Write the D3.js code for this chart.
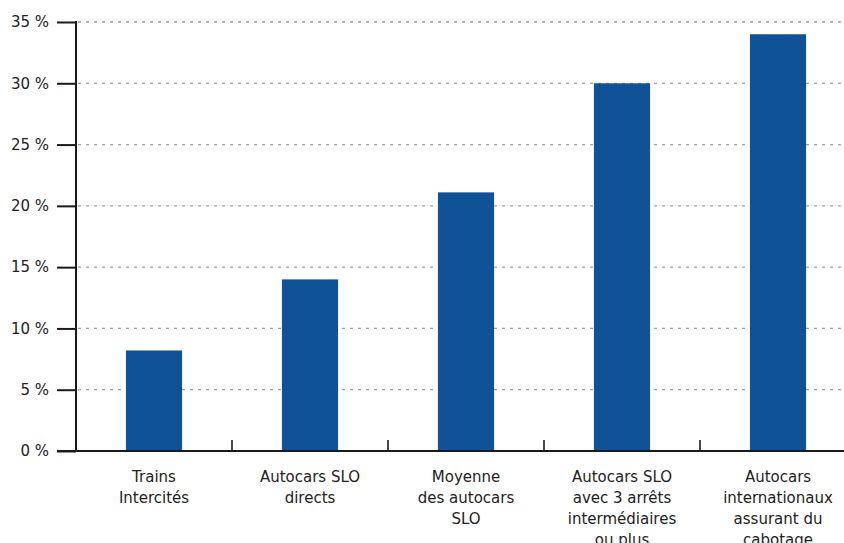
<!DOCTYPE html>
<html>
<head>
<meta charset="utf-8">
<script src="https://cdn.jsdelivr.net/npm/d3@7"></script>
<style>
  body { margin: 0; background: #fff; }
  svg { display: block; font-family: "DejaVu Sans", sans-serif; }
</style>
</head>
<body>
<svg id="chart"></svg>
<script>
// data
var categories = [
    ["Trains", "Intercités"],
    ["Autocars SLO", "directs"],
    ["Moyenne", "des autocars", "SLO"],
    ["Autocars SLO", "avec 3 arrêts", "intermédiaires", "ou plus"],
    ["Autocars", "internationaux", "assurant du", "cabotage"]
];
var values = [8.2, 14, 21.1, 30, 34];
var yTicks = [0, 5, 10, 15, 20, 25, 30, 35];

var width = 844, height = 543;
var svg = d3.select("#chart").attr("width", width).attr("height", height);

var x0 = 76, y0 = 451, yTop = 22, band = 156;

var x = d3.scaleBand()
    .domain(d3.range(values.length))
    .range([x0, x0 + band * values.length])
    .paddingInner(0.64).paddingOuter(0.32);

var y = d3.scaleLinear().domain([0, 35]).range([y0, yTop]);

// grid lines
svg.append("g")
    .selectAll("line")
    .data(yTicks.slice(1))
    .enter().append("line")
    .attr("x1", x0 + 2)
    .attr("x2", width)
    .attr("y1", function (d) { return y(d); })
    .attr("y2", function (d) { return y(d); })
    .attr("stroke", "#a0a0a0")
    .attr("stroke-width", 1.3)
    .attr("stroke-dasharray", "3,5");

// bars
svg.append("g")
    .selectAll("rect")
    .data(values)
    .enter().append("rect")
    .attr("x", function (d, i) { return x(i); })
    .attr("y", function (d) { return y(d); })
    .attr("width", x.bandwidth())
    .attr("height", function (d) { return y0 - y(d); })
    .attr("fill", "#0f5298");

// y axis
var yAxis = d3.axisLeft(y)
    .tickValues(yTicks)
    .tickSize(19)
    .tickPadding(8)
    .tickFormat(function (d) { return d + " %"; });

var gy = svg.append("g")
    .attr("transform", "translate(" + x0 + ",0)")
    .call(yAxis);
gy.select(".domain").remove();
gy.selectAll(".tick line").attr("stroke", "#1a1a1a").attr("stroke-width", 2);
gy.selectAll(".tick text")
    .attr("font-size", 15)
    .attr("fill", "#222")
    .attr("font-family", "DejaVu Sans, sans-serif");

svg.append("line")
    .attr("x1", x0).attr("x2", x0)
    .attr("y1", yTop - 1).attr("y2", y0 + 1)
    .attr("stroke", "#1a1a1a").attr("stroke-width", 2);

// x axis line
svg.append("line")
    .attr("x1", x0 - 19).attr("x2", width)
    .attr("y1", y0).attr("y2", y0)
    .attr("stroke", "#1a1a1a").attr("stroke-width", 2);

// category separators
svg.append("g")
    .selectAll("line")
    .data(d3.range(1, values.length))
    .enter().append("line")
    .attr("x1", function (d) { return x0 + band * d; })
    .attr("x2", function (d) { return x0 + band * d; })
    .attr("y1", y0)
    .attr("y2", y0 - 11)
    .attr("stroke", "#1a1a1a")
    .attr("stroke-width", 1.6);

// category labels
var labels = svg.append("g")
    .selectAll("text")
    .data(categories)
    .enter().append("text")
    .attr("text-anchor", "middle")
    .attr("font-size", 15)
    .attr("fill", "#222")
    .attr("x", function (d, i) { return x(i) + x.bandwidth() / 2; })
    .attr("y", 482);

labels.selectAll("tspan")
    .data(function (d, i) {
        return d.map(function (t) { return { t: t, i: i }; });
    })
    .enter().append("tspan")
    .attr("x", function (d) { return x(d.i) + x.bandwidth() / 2; })
    .attr("dy", function (d, j) { return j === 0 ? 0 : 21; })
    .text(function (d) { return d.t; });
</script>
</body>
</html>
